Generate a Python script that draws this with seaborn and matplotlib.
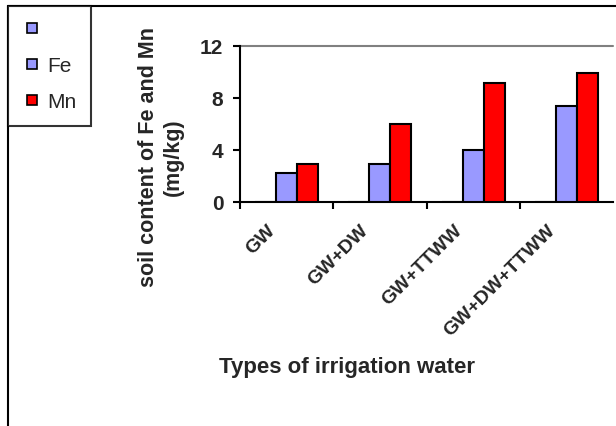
import matplotlib
matplotlib.use("Agg")
import matplotlib.pyplot as plt
from matplotlib.lines import Line2D
from matplotlib.transforms import ScaledTranslation
import seaborn as sns
import pandas as pd

categories = ["GW", "GW+DW", "GW+TTWW", "GW+DW+TTWW"]
blank_values = [0, 0, 0, 0]
fe_values = [2.2, 2.9, 4.0, 7.4]
mn_values = [2.9, 6.0, 9.1, 9.9]
series_names = [" ", "Fe", "Mn"]
y_ticks = [0, 4, 8, 12]

sns.set_theme(style="white")
plt.rcParams["font.family"] = ["Liberation Sans", "DejaVu Sans"]

rows = []
for name, vals in zip(series_names, [blank_values, fe_values, mn_values]):
    for c, v in zip(categories, vals):
        rows.append({"cat": c, "series": name, "value": v})
df = pd.DataFrame(rows)

palette = {" ": "#9999FF", "Fe": "#9999FF", "Mn": "#FF0000"}

fig = plt.figure(figsize=(6.16, 4.27), dpi=100)
ax = fig.add_axes([240 / 616, 1 - 202.7 / 427, 373.3 / 616, 156 / 427])

sns.barplot(data=df, x="cat", y="value", hue="series", hue_order=series_names,
            order=categories, palette=palette, width=0.675, edgecolor="black",
            linewidth=1.5, saturation=1, ax=ax, legend=False, zorder=3)

ax.set_xlim(-0.5, 3.5)
ax.set_ylim(0, 12)
ax.set_yticks(y_ticks)
ax.set_yticklabels([str(t) for t in y_ticks], fontsize=15, fontweight="bold")
ax.axhline(12, color="#808080", lw=1.5, zorder=1, clip_on=False)

for s in ["top", "right"]:
    ax.spines[s].set_visible(False)
for s in ["left", "bottom"]:
    ax.spines[s].set_color("black")
    ax.spines[s].set_linewidth(1.5)

ax.set_xticks(range(len(categories)))
ax.set_xticklabels(categories, rotation=45, ha="right", rotation_mode="anchor",
                   fontsize=14, fontweight="bold")
ax.tick_params(axis="x", which="major", length=0, pad=8)
shift = ScaledTranslation(-20 / 100, -8 / 100, fig.dpi_scale_trans)
for lbl in ax.get_xticklabels():
    lbl.set_transform(lbl.get_transform() + shift)
ax.set_xticks([-0.5, 0.5, 1.5, 2.5], minor=True)
ax.tick_params(axis="x", which="minor", length=5, width=1.5, color="black", direction="out", bottom=True)
ax.tick_params(axis="y", length=5, width=1.5, color="black", direction="out", left=True, pad=7)

ax.set_xlabel("")
ax.set_ylabel("")
fig.text(347 / 616, 1 - 368 / 427, "Types of irrigation water", fontsize=16,
         fontweight="bold", ha="center", va="center")
fig.text(161 / 616, 1 - 157 / 427, "soil content of Fe and Mn\n(mg/kg)", fontsize=15.5,
         fontweight="bold", ha="center", va="center", rotation=90, linespacing=1.2)

# chart area border (top and left)
fig.add_artist(Line2D([8 / 616, 8 / 616], [0, 1 - 7 / 427], color="black", lw=1.5,
                      transform=fig.transFigure))
fig.add_artist(Line2D([8 / 616, 1], [1 - 7 / 427, 1 - 7 / 427], color="black", lw=1.5,
                      transform=fig.transFigure))

handles = [Line2D([], [], ls="none", marker="s", markersize=7.5,
                  markerfacecolor=palette[n], markeredgecolor="black", markeredgewidth=1.2)
           for n in series_names]
leg = fig.legend(handles, series_names, loc="upper left",
                 bbox_to_anchor=(8 / 616, 1 - 7 / 427), fontsize=15, frameon=True,
                 fancybox=False, handlelength=0.9, handletextpad=0.3,
                 labelspacing=0.8, borderpad=0.7, borderaxespad=0)
leg.get_frame().set_edgecolor("black")
leg.get_frame().set_linewidth(1.5)

fig.savefig("out.png", dpi=100)
